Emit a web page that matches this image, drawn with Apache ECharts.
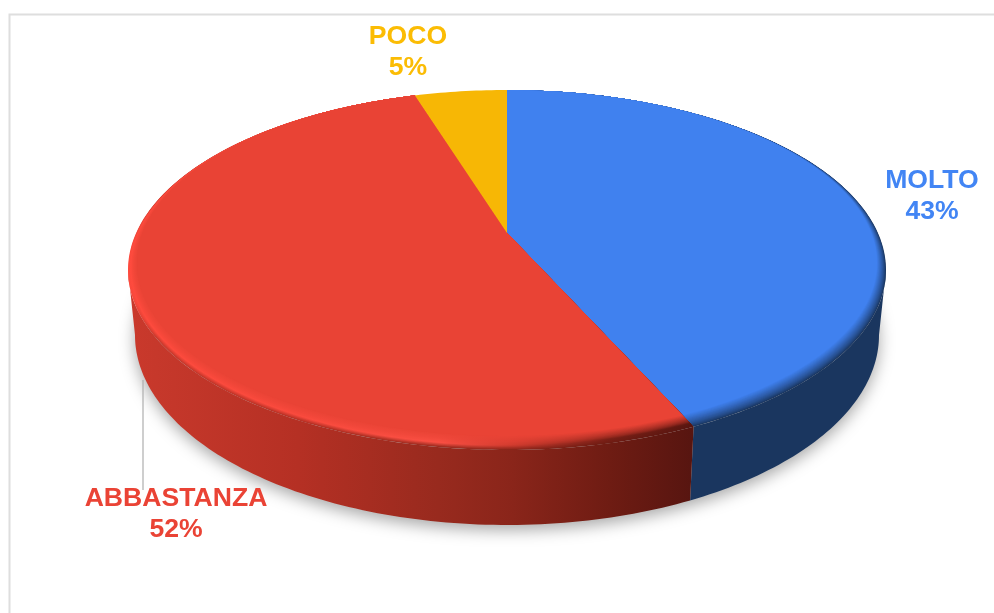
<!DOCTYPE html>
<html>
<head>
<meta charset="utf-8">
<style>html,body{margin:0;padding:0;background:#fff}#c{width:994px;height:613px}</style>
<script src="https://cdn.jsdelivr.net/npm/echarts@6/dist/echarts.min.js"></script>
</head>
<body>
<div id="c"></div>
<script>
const categories = ['MOLTO', 'ABBASTANZA', 'POCO'];
const values = [43.3, 51.9, 4.8];
const textColors = ['#4285f4', '#ea4335', '#fbbc04'];
const faceColors = ['#4081ef', '#e94335', '#f7b705'];

// Drawing geometry of the tilted disc
const TOP = {cx: 507, cy: 270, rx: 379, ry: 180};
const INNER = {cx: 507, cy: 263, rx: 370, ry: 173};
const BOTTOM = {cx: 507, cy: 335, rx: 372, ry: 190};
const APEX_SHIFT = -0.2056;
const GX0 = 128, GX1 = 693;
const labelAnchors = [[932, 196], [176, 514], [408, 52]];

const total = values.reduce((a, b) => a + b, 0);

function hex(c) { return [1, 3, 5].map(i => parseInt(c.substr(i, 2), 16)); }
function mix(a, b, t) {
  const x = hex(a), y = hex(b);
  return '#' + x.map((v, i) => Math.round(v + (y[i] - v) * t).toString(16).padStart(2, '0')).join('');
}
// circle angle (deg, clockwise from top) -> unit-ellipse coordinates with perspective
function project(deg) {
  const r = deg * Math.PI / 180, u = Math.sin(r), v = -Math.cos(r), a = APEX_SHIFT;
  const d = 1 + a * v;
  return [u * Math.sqrt(1 - a * a) / d, (v + a) / d];
}
function onEllipse(e, p) { return [e.cx + e.rx * p[0], e.cy + e.ry * p[1]]; }
function arc(e, a0, a1) {
  const pts = [], n = Math.max(2, Math.ceil(Math.abs(a1 - a0)));
  for (let i = 0; i <= n; i++) pts.push(onEllipse(e, project(a0 + (a1 - a0) * i / n)));
  return pts;
}
function lerpE(t) {
  const o = {};
  for (const k in TOP) o[k] = TOP[k] + (INNER[k] - TOP[k]) * t;
  return o;
}
const apex = onEllipse(TOP, [0, APEX_SHIFT]);
// same rays from the apex for every layer, so slice seams stay straight
function rayArc(e, a0, a1) {
  return arc(TOP, a0, a1).map(P => {
    const dx = P[0] - apex[0], dy = P[1] - apex[1];
    const ox = (apex[0] - e.cx) / e.rx, oy = (apex[1] - e.cy) / e.ry;
    const qx = dx / e.rx, qy = dy / e.ry;
    const A = qx * qx + qy * qy, B = 2 * (ox * qx + oy * qy), C = ox * ox + oy * oy - 1;
    const s = (-B + Math.sqrt(B * B - 4 * A * C)) / (2 * A);
    return [apex[0] + s * dx, apex[1] + s * dy];
  });
}
const stopOffsets = [0, 0.05, 0.3, 0.55, 0.68, 0.85, 1];
const sideShades = ['#ca392c', '#c6382b', '#b53024', '#982a1e', '#8a251a', '#6f1c13', '#571510'];
const rimShades = ['#ff4b3e', '#ff4b3e', '#fb4a3e', '#fb5044', '#d03a2e', '#7a1f16', '#5a1610'];
function grad(colors) {
  return new echarts.graphic.LinearGradient(GX0, 0, GX1, 0,
    colors.map((c, k) => ({offset: stopOffsets[k], color: c})), true);
}

const RIGHT_DEG = Math.acos(APEX_SHIFT) * 180 / Math.PI;   // right extreme of outline
const LEFT_DEG = 360 - RIGHT_DEG;

function renderItem(params, api) {
  const i = params.dataIndex;
  const val = api.value(0);
  let before = 0;
  for (let k = 0; k < i; k++) before += values[k];
  const a0 = before / total * 360, a1 = (before + val) / total * 360;
  const children = [];

  if (i === 0) {
    children.push({
      type: 'ellipse',
      shape: {cx: BOTTOM.cx, cy: BOTTOM.cy, rx: BOTTOM.rx, ry: BOTTOM.ry},
      style: {fill: '#c8c8c8', shadowBlur: 16, shadowColor: 'rgba(0,0,0,0.35)', shadowOffsetY: 5}
    });
  }
  // side wall
  const s0 = Math.max(a0, RIGHT_DEG), s1 = Math.min(a1, LEFT_DEG);
  if (s1 > s0) {
    const pts = arc(TOP, s0, s1).concat(arc(BOTTOM, s1, s0));
    children.push({
      type: 'polygon', shape: {points: pts},
      style: {fill: i === 0 ? '#1a365f' : grad(sideShades)}
    });
  }
  // top face, layered from the rim inward
  const face = faceColors[i];
  const N = i === 2 ? 0 : 16;
  for (let l = 0; l <= N; l++) {
    const t = N ? l / N : 1;
    const e = lerpE(t);
    const pts = [apex].concat(rayArc(e, a0, a1));
    let fill = face;
    if (t < 1) {
      if (i === 0) {
        fill = mix('#1a365f', face, Math.pow(t, 0.8));
      } else {
        fill = grad(rimShades.map((c, k) => {
          if (t > 0.3) return mix(c, face, Math.pow((t - 0.3) / 0.7, 0.7));
          return k < 1 ? c : mix(sideShades[k], c, t / 0.3);
        }));
      }
    }
    children.push({type: 'polygon', shape: {points: pts}, style: {fill: fill}});
  }
  // leader line for the big slice
  if (i === 1) {
    children.push({
      type: 'line', shape: {x1: 143, y1: 380, x2: 143, y2: 490},
      style: {stroke: '#aeaeae', lineWidth: 1.2}
    });
  }
  return {type: 'group', children: children};
}

// Labels drawn after the slices so that they sit on top
function renderLabel(params, api) {
  const i = params.dataIndex;
  return {
    type: 'text',
    x: labelAnchors[i][0], y: labelAnchors[i][1],
    style: {
      text: categories[i] + '\n' + Math.round(api.value(0)) + '%',
      fill: textColors[i],
      font: 'bold 26.6px "Liberation Sans", Arial, sans-serif',
      lineHeight: 31,
      align: 'center',
      verticalAlign: 'middle'
    }
  };
}

const chart = echarts.init(document.getElementById('c'), null, {renderer: 'canvas'});
chart.setOption({
  animation: false,
  backgroundColor: '#fff',
  graphic: [{
    type: 'rect', silent: true, z: 0,
    shape: {x: 9.5, y: 14.5, width: 1200, height: 900},
    style: {fill: 'none', stroke: '#dedede', lineWidth: 2}
  }],
  series: [
    {type: 'custom', coordinateSystem: 'none', silent: true, z: 2, renderItem: renderItem, data: values.map(v => [v])},
    {type: 'custom', coordinateSystem: 'none', silent: true, z: 3, renderItem: renderLabel, data: values.map(v => [v])}
  ]
});
</script>
</body>
</html>
